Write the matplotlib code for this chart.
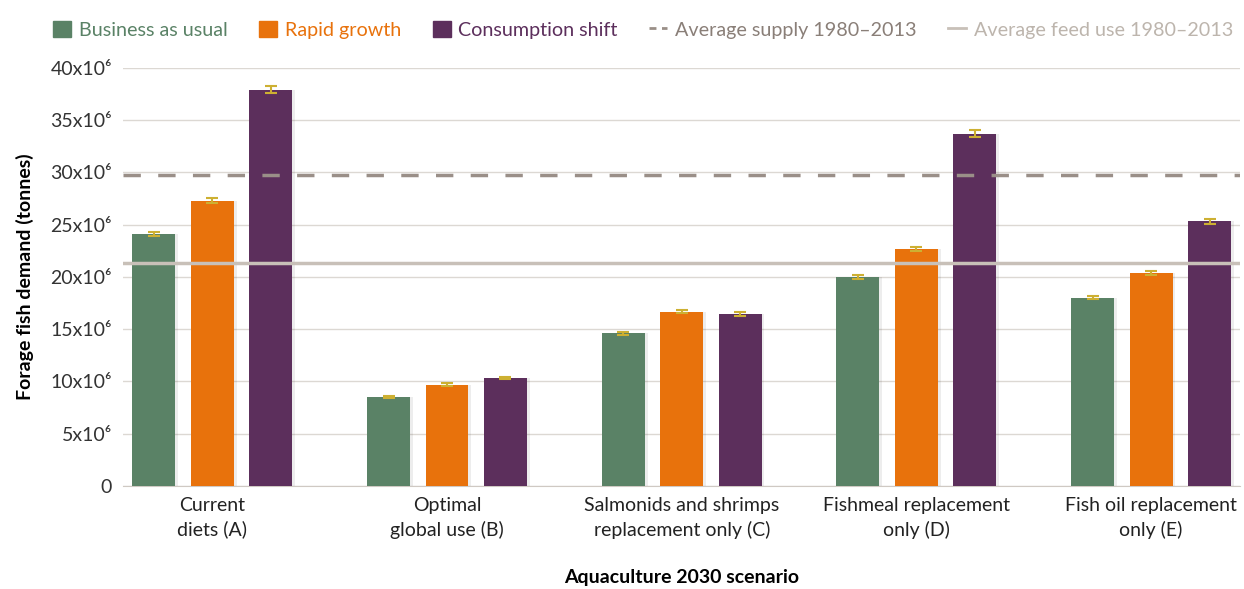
import matplotlib.pyplot as plt
import numpy as np
from matplotlib.patches import Patch
from matplotlib.lines import Line2D

plt.rcParams['font.family'] = ['Lato', 'DejaVu Sans']

categories = ["Current\ndiets (A)", "Optimal\nglobal use (B)", "Salmonids and shrimps\nreplacement only (C)",
              "Fishmeal replacement\nonly (D)", "Fish oil replacement\nonly (E)"]
series_names = ["Business as usual", "Rapid growth", "Consumption shift"]
business = [24.1, 8.5, 14.6, 20.0, 18.0]
rapid = [27.3, 9.7, 16.65, 22.7, 20.4]
shift = [37.9, 10.3, 16.45, 33.7, 25.3]
business_err = [0.2, 0.1, 0.15, 0.2, 0.15]
rapid_err = [0.2, 0.1, 0.15, 0.2, 0.2]
shift_err = [0.35, 0.1, 0.2, 0.35, 0.25]
avg_supply = 29.7
avg_feed = 21.3
yticks = [0, 5, 10, 15, 20, 25, 30, 35, 40]

colors = ["#5a8266", "#e8720c", "#5c2f5c"]
err_color = "#cdb032"

fig = plt.figure(figsize=(12.44, 5.89), dpi=100)
ax = fig.add_axes([0.099, 0.175, 0.898, 0.71])

x = np.arange(len(categories))
width = 0.183
offset = 0.249
for i, (vals, errs) in enumerate([(business, business_err), (rapid, rapid_err), (shift, shift_err)]):
    pos = x + (i - 1) * offset
    # soft shadow
    ax.bar(pos + 0.012, vals, width, color="#000000", alpha=0.07, zorder=2)
    ax.bar(pos, vals, width, color=colors[i], zorder=3)
    ax.errorbar(pos, vals, yerr=errs, fmt="none", ecolor=err_color, elinewidth=1.5,
                capsize=4, capthick=1.5, zorder=4)

ax.axhline(avg_supply, color="#9a8f88", lw=2.5, ls=(0, (5, 5)), zorder=5)
ax.axhline(avg_feed, color="#c8c0b8", lw=2.5, zorder=5)

ax.set_xlim(-0.38, 4.38)
ax.set_ylim(0, 40)
ax.set_yticks(yticks)
ax.set_yticklabels(["0" if t == 0 else f"{t}x10\u2076" for t in yticks], fontsize=14, color="#333333")
ax.set_xticks(x)
ax.set_xticklabels(categories, fontsize=14, color="#222222", linespacing=1.45)
ax.tick_params(axis="both", length=0, pad=8)
ax.grid(axis="y", color="#dcd8d3", lw=1, zorder=0)
for s in ["top", "right", "left"]:
    ax.spines[s].set_visible(False)
ax.spines["bottom"].set_color("#cfc9c3")

ax.set_ylabel("Forage fish demand (tonnes)", fontsize=14, fontweight="bold", labelpad=12)
ax.set_xlabel("Aquaculture 2030 scenario", fontsize=14, fontweight="bold", labelpad=22)

handles = [Patch(color=c) for c in colors]
handles += [Line2D([0], [0], color="#9a8f88", lw=2, ls=(0, (2.5, 2))),
            Line2D([0], [0], color="#c8c0b8", lw=2)]
labels = series_names + ["Average supply 1980\u20132013", "Average feed use 1980\u20132013"]
leg = fig.legend(handles, labels, loc="upper center", bbox_to_anchor=(0.517, 0.995), ncol=5,
                 frameon=False, fontsize=14.2, handlelength=0.9, handleheight=0.9,
                 handletextpad=0.4, columnspacing=1.6)
text_colors = colors + ["#8a7f78", "#bdb5ad"]
for t, c in zip(leg.get_texts(), text_colors):
    t.set_color(c)

fig.savefig("out.png", dpi=100)
